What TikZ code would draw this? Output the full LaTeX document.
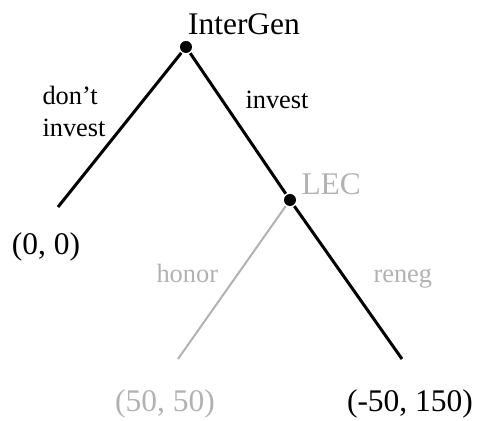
\documentclass[tikz,border=0pt]{standalone}
\usepackage{fontspec}
\setmainfont{Liberation Serif}
\begin{document}
\begin{tikzpicture}[x=0.5pt,y=-0.5pt,line width=1.5pt,
		dec/.style={circle,fill,inner sep=0pt,minimum size=6pt},
		big/.style={inner sep=0pt,font=\fontsize{15.75}{19}\selectfont},
		lab/.style={inner sep=0pt,align=left,font=\fontsize{13.2}{16}\selectfont},
		pale/.style={black!30}]
		\useasboundingbox (0,0) rectangle (478,421);
		\node[dec] (ig) at (186,47) {};
		\node[dec] (lec) at (290,200) {};
		\coordinate (out) at (58,207);
		\coordinate (hon) at (178,359);
		\coordinate (ren) at (402,359);
		\draw (ig) -- (out);
		\draw (ig) -- (lec);
		\draw[pale,line width=1pt] (lec) -- (hon);
		\draw (lec) -- (ren);
		\node[big,anchor=base] (igname) at (244,35) {InterGen};
		\node[big,pale,anchor=base west] (lecname) at (300,195) {LEC};
		\node[lab,anchor=north west] (dont) at (41,85) {don’t\\invest};
		\node[lab,anchor=base west] (inv) at (244,109) {invest};
		\node[lab,pale,anchor=base west] (honor) at (155,283) {honor};
		\node[lab,pale,anchor=base west] (reneg) at (372,283) {reneg};
		\node[big,anchor=base] (payA) at (46,255) {(0, 0)};
		\node[big,pale,anchor=base] (payB) at (165,412) {(50, 50)};
		\node[big,anchor=base] (payC) at (410,412) {(-50, 150)};
	\end{tikzpicture}
\end{document}
